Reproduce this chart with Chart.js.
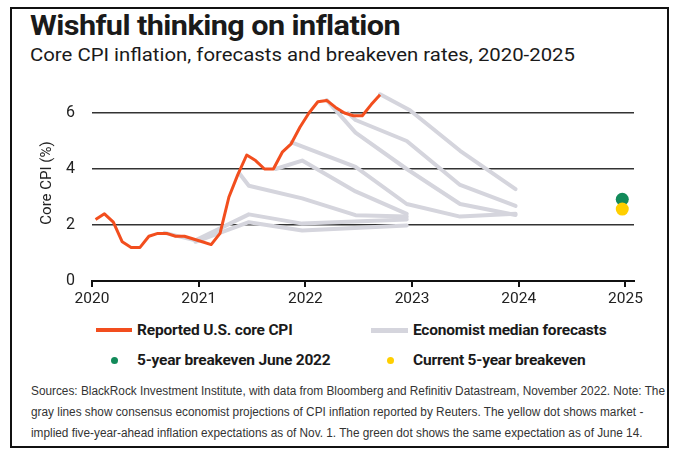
<!DOCTYPE html>
<html>
<head>
<meta charset="utf-8">
<script src="https://cdn.jsdelivr.net/npm/chart.js@4"></script>
<style>
  html, body { margin: 0; padding: 0; background: #fff; }
  body { width: 679px; height: 454px; position: relative; overflow: hidden; font-family: Roboto, "Open Sans", sans-serif; color: #1a1a1a; }
  .frame { position: absolute; left: 10px; top: 7px; width: 655px; height: 437px; border: 2px solid #111; }
  .fit { position: absolute; white-space: nowrap; transform-origin: 0 50%; }
  .title { left: 30px; top: 9px; font-size: 27px; font-weight: 700; letter-spacing: -0.5px; line-height: 34px; }
  .subtitle { left: 30px; top: 44px; font-size: 18px; line-height: 22px; }
  #chartBox { position: absolute; left: 0; top: 0; width: 679px; height: 320px; }
  .legend-item { position: absolute; font-size: 15.5px; font-weight: 700; line-height: 20px; letter-spacing: -0.2px; }
  .swatch-line { position: absolute; height: 4px; }
  .swatch-dot { position: absolute; width: 7px; height: 7px; border-radius: 50%; }
  .note { left: 31px; font-family: "Liberation Sans", sans-serif; font-size: 12.5px; line-height: 21px; color: #333; }
</style>
</head>
<body>
<div class="frame"></div>
<div class="fit title" id="title">Wishful thinking on inflation</div>
<div class="fit subtitle" id="subtitle">Core CPI inflation, forecasts and breakeven rates, 2020-2025</div>
<div id="chartBox"><canvas id="chart" width="679" height="320"></canvas></div>

<div class="swatch-line" style="left:96px; top:328px; width:36px; background:#f24e1e;"></div>
<div class="legend-item" style="left:137px; top:320px;">Reported U.S. core CPI</div>
<div class="swatch-line" style="left:371px; top:328px; width:37px; height:5px; background:#d5d5dd;"></div>
<div class="legend-item" style="left:413px; top:320px;">Economist median forecasts</div>
<div class="swatch-dot" style="left:111px; top:357px; background:#128a5a;"></div>
<div class="legend-item" style="left:137px; top:350px;">5-year breakeven June 2022</div>
<div class="swatch-dot" style="left:387px; top:357px; background:#ffcf00;"></div>
<div class="legend-item" style="left:413px; top:350px;">Current 5-year breakeven</div>

<div class="fit note" id="note1" style="top:381px;">Sources: BlackRock Investment Institute, with data from Bloomberg and Refinitiv Datastream, November 2022. Note: The</div>
<div class="fit note" id="note2" style="top:402px;">gray lines show consensus economist projections of CPI inflation reported by Reuters. The yellow dot shows market -</div>
<div class="fit note" id="note3" style="top:423px;">implied five-year-ahead inflation expectations as of Nov. 1. The green dot shows the same expectation as of June 14.</div>

<script>
const ORANGE = "#f24e1e";
const GRAY = "#d5d5dd";
const GREEN = "#128a5a";
const YELLOW = "#ffcf00";

// reported core CPI, monthly
const cpiMonths = [
  "2020-01", "2020-02", "2020-03", "2020-04", "2020-05", "2020-06",
  "2020-07", "2020-08", "2020-09", "2020-10", "2020-11", "2020-12",
  "2021-01", "2021-02", "2021-03", "2021-04", "2021-05", "2021-06",
  "2021-07", "2021-08", "2021-09", "2021-10", "2021-11", "2021-12",
  "2022-01", "2022-02", "2022-03", "2022-04", "2022-05", "2022-06",
  "2022-07", "2022-08", "2022-09",
];
const cpiValues = [
  2.2, 2.4, 2.1, 1.4, 1.2, 1.2, 1.6, 1.7, 1.7, 1.6, 1.6, 1.5,
  1.4, 1.3, 1.7, 3.0, 3.8, 4.5, 4.3, 4.0, 4.0, 4.6, 4.9, 5.5,
  6.0, 6.4, 6.45, 6.2, 6.0, 5.9, 5.9, 6.3, 6.65,
];

// economist median forecasts (decimal year, %)
const forecastSep2020 = [[2020.68, 1.72], [2020.97, 1.45], [2021.47, 2.38], [2021.97, 2.05], [2022.95, 2.2]];
const forecastDec2020 = [[2020.97, 1.4], [2021.47, 2.1], [2021.97, 1.8], [2022.95, 1.98]];
const forecastMay2021 = [[2021.38, 3.85], [2021.47, 3.4], [2021.97, 2.95], [2022.47, 2.35], [2022.95, 2.3]];
const forecastSep2021 = [[2021.72, 4.0], [2021.97, 4.3], [2022.47, 3.2], [2022.95, 2.4]];
const forecastNov2021 = [[2021.87, 4.95], [2022.47, 4.08], [2022.95, 2.75], [2023.45, 2.3], [2023.97, 2.4]];
const forecastMar2022 = [[2022.2, 6.46], [2022.47, 5.3], [2022.95, 4.0], [2023.45, 2.75], [2023.97, 2.36]];
const forecastJun2022 = [[2022.4, 6.0], [2022.47, 5.75], [2022.95, 5.0], [2023.45, 3.43], [2023.97, 2.68]];
const forecastSep2022 = [[2022.7, 6.67], [2022.98, 6.1], [2023.45, 4.65], [2023.97, 3.28]];
const forecasts = [
  forecastSep2020, forecastDec2020, forecastMay2021, forecastSep2021,
  forecastNov2021, forecastMar2022, forecastJun2022, forecastSep2022,
];

// 5-year breakevens
const breakevenX = 2024.97;
const breakevenJune2022 = 2.92;
const breakevenCurrent = 2.57;

const xTicks = [2020, 2021, 2022, 2023, 2024, 2025];
const yTicks = [0, 2, 4, 6];

function monthToYear(label) {
  const [y, m] = label.split("-").map(Number);
  return y + (m - 0.6) / 12;
}

// stretch a text line so it spans the same width as the original
function fitWidth(id, target) {
  const el = document.getElementById(id);
  const w = el.getBoundingClientRect().width;
  const s = target / w;
  el.style.transform = `scaleX(${s})`;
  return s;
}

const noteScale = fitWidth("note1", 634);
["note2", "note3"].forEach((id) => {
  document.getElementById(id).style.transform = `scaleX(${noteScale})`;
});
fitWidth("title", 370);
fitWidth("subtitle", 545);

const cpiPoints = cpiMonths.map((m, i) => ({ x: monthToYear(m), y: cpiValues[i] }));

const datasets = [
  {
    label: "Reported U.S. core CPI",
    data: cpiPoints,
    borderColor: ORANGE,
    borderWidth: 3,
    pointRadius: 0,
    borderJoinStyle: "round",
  },
  {
    label: "Current 5-year breakeven",
    type: "scatter",
    data: [{ x: breakevenX, y: breakevenCurrent }],
    backgroundColor: YELLOW,
    borderWidth: 0,
    pointRadius: 6.5,
  },
  {
    label: "5-year breakeven June 2022",
    type: "scatter",
    data: [{ x: breakevenX, y: breakevenJune2022 }],
    backgroundColor: GREEN,
    borderWidth: 0,
    pointRadius: 6.5,
  },
  ...forecasts.map((f) => ({
    label: "Economist median forecasts",
    data: f.map(([x, y]) => ({ x, y })),
    borderColor: GRAY,
    borderWidth: 4,
    pointRadius: 0,
    borderJoinStyle: "round",
    borderCapStyle: "round",
  })),
];

new Chart(document.getElementById("chart"), {
  type: "line",
  data: { datasets },
  options: {
    responsive: false,
    animation: false,
    devicePixelRatio: 1,
    layout: { padding: { top: 85, right: 45, left: 0, bottom: 0 } },
    plugins: { legend: { display: false }, tooltip: { enabled: false } },
    scales: {
      x: {
        type: "linear",
        min: 2020,
        max: 2025.08,
        afterBuildTicks: (scale) => {
          scale.ticks = xTicks.map((v) => ({ value: v }));
        },
        afterFit: (scale) => {
          scale.height = 39;
        },
        ticks: {
          color: "#222",
          font: { family: "Roboto", size: 15.5 },
          padding: 3,
          maxRotation: 0,
          callback: (v) => String(v),
        },
        grid: {
          drawOnChartArea: false,
          drawTicks: true,
          tickLength: 6,
          color: "#111",
          lineWidth: 2,
        },
        border: { display: true, color: "#111", width: 2 },
      },
      y: {
        min: 0,
        max: 7,
        afterBuildTicks: (scale) => {
          scale.ticks = yTicks.map((v) => ({ value: v }));
        },
        afterFit: (scale) => {
          scale.width = 92;
        },
        ticks: {
          color: "#222",
          font: { family: "Roboto", size: 16 },
          padding: 17,
        },
        grid: {
          drawTicks: false,
          color: (ctx) => (ctx.tick && ctx.tick.value === 0 ? "rgba(0,0,0,0)" : "#333"),
          lineWidth: 1.6,
        },
        border: { display: false },
        title: {
          display: true,
          text: "Core CPI (%)",
          color: "#222",
          font: { family: "Roboto", size: 15 },
          padding: { top: 38 },
        },
      },
    },
  },
});
</script>
</body>
</html>
